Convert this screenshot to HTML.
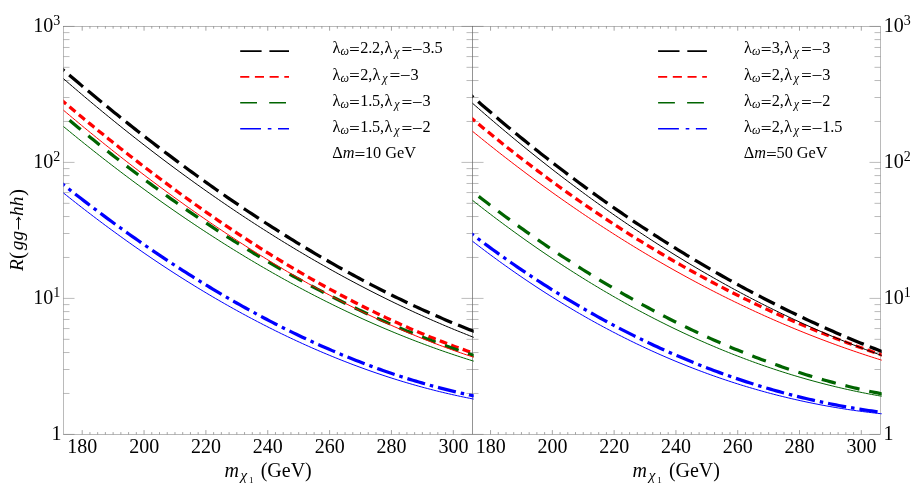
<!DOCTYPE html>
<html><head><meta charset="utf-8"><title>R(gg→hh)</title>
<style>
html,body{margin:0;padding:0;background:#fff;}
svg{display:block;}
text{font-family:"Liberation Serif",serif;fill:#000;}
</style></head>
<body>
<svg width="921" height="491" viewBox="0 0 921 491">
<rect width="921" height="491" fill="#fff"/>
<g>
<rect x="63.5" y="26.4" width="409.0" height="408.0" fill="none" stroke="#666" stroke-width="0.45"/>
<line x1="82.20" y1="434.40" x2="82.20" y2="430.10" stroke="#666" stroke-width="0.6" />
<line x1="82.20" y1="26.40" x2="82.20" y2="30.70" stroke="#666" stroke-width="0.6" />
<line x1="89.93" y1="434.40" x2="89.93" y2="432.10" stroke="#666" stroke-width="0.6" />
<line x1="89.93" y1="26.40" x2="89.93" y2="28.70" stroke="#666" stroke-width="0.6" />
<line x1="97.66" y1="434.40" x2="97.66" y2="432.10" stroke="#666" stroke-width="0.6" />
<line x1="97.66" y1="26.40" x2="97.66" y2="28.70" stroke="#666" stroke-width="0.6" />
<line x1="105.39" y1="434.40" x2="105.39" y2="432.10" stroke="#666" stroke-width="0.6" />
<line x1="105.39" y1="26.40" x2="105.39" y2="28.70" stroke="#666" stroke-width="0.6" />
<line x1="113.12" y1="434.40" x2="113.12" y2="432.10" stroke="#666" stroke-width="0.6" />
<line x1="113.12" y1="26.40" x2="113.12" y2="28.70" stroke="#666" stroke-width="0.6" />
<line x1="120.86" y1="434.40" x2="120.86" y2="432.10" stroke="#666" stroke-width="0.6" />
<line x1="120.86" y1="26.40" x2="120.86" y2="28.70" stroke="#666" stroke-width="0.6" />
<line x1="128.59" y1="434.40" x2="128.59" y2="432.10" stroke="#666" stroke-width="0.6" />
<line x1="128.59" y1="26.40" x2="128.59" y2="28.70" stroke="#666" stroke-width="0.6" />
<line x1="136.32" y1="434.40" x2="136.32" y2="432.10" stroke="#666" stroke-width="0.6" />
<line x1="136.32" y1="26.40" x2="136.32" y2="28.70" stroke="#666" stroke-width="0.6" />
<line x1="144.05" y1="434.40" x2="144.05" y2="430.10" stroke="#666" stroke-width="0.6" />
<line x1="144.05" y1="26.40" x2="144.05" y2="30.70" stroke="#666" stroke-width="0.6" />
<line x1="151.78" y1="434.40" x2="151.78" y2="432.10" stroke="#666" stroke-width="0.6" />
<line x1="151.78" y1="26.40" x2="151.78" y2="28.70" stroke="#666" stroke-width="0.6" />
<line x1="159.51" y1="434.40" x2="159.51" y2="432.10" stroke="#666" stroke-width="0.6" />
<line x1="159.51" y1="26.40" x2="159.51" y2="28.70" stroke="#666" stroke-width="0.6" />
<line x1="167.24" y1="434.40" x2="167.24" y2="432.10" stroke="#666" stroke-width="0.6" />
<line x1="167.24" y1="26.40" x2="167.24" y2="28.70" stroke="#666" stroke-width="0.6" />
<line x1="174.97" y1="434.40" x2="174.97" y2="432.10" stroke="#666" stroke-width="0.6" />
<line x1="174.97" y1="26.40" x2="174.97" y2="28.70" stroke="#666" stroke-width="0.6" />
<line x1="182.71" y1="434.40" x2="182.71" y2="432.10" stroke="#666" stroke-width="0.6" />
<line x1="182.71" y1="26.40" x2="182.71" y2="28.70" stroke="#666" stroke-width="0.6" />
<line x1="190.44" y1="434.40" x2="190.44" y2="432.10" stroke="#666" stroke-width="0.6" />
<line x1="190.44" y1="26.40" x2="190.44" y2="28.70" stroke="#666" stroke-width="0.6" />
<line x1="198.17" y1="434.40" x2="198.17" y2="432.10" stroke="#666" stroke-width="0.6" />
<line x1="198.17" y1="26.40" x2="198.17" y2="28.70" stroke="#666" stroke-width="0.6" />
<line x1="205.90" y1="434.40" x2="205.90" y2="430.10" stroke="#666" stroke-width="0.6" />
<line x1="205.90" y1="26.40" x2="205.90" y2="30.70" stroke="#666" stroke-width="0.6" />
<line x1="213.63" y1="434.40" x2="213.63" y2="432.10" stroke="#666" stroke-width="0.6" />
<line x1="213.63" y1="26.40" x2="213.63" y2="28.70" stroke="#666" stroke-width="0.6" />
<line x1="221.36" y1="434.40" x2="221.36" y2="432.10" stroke="#666" stroke-width="0.6" />
<line x1="221.36" y1="26.40" x2="221.36" y2="28.70" stroke="#666" stroke-width="0.6" />
<line x1="229.09" y1="434.40" x2="229.09" y2="432.10" stroke="#666" stroke-width="0.6" />
<line x1="229.09" y1="26.40" x2="229.09" y2="28.70" stroke="#666" stroke-width="0.6" />
<line x1="236.82" y1="434.40" x2="236.82" y2="432.10" stroke="#666" stroke-width="0.6" />
<line x1="236.82" y1="26.40" x2="236.82" y2="28.70" stroke="#666" stroke-width="0.6" />
<line x1="244.56" y1="434.40" x2="244.56" y2="432.10" stroke="#666" stroke-width="0.6" />
<line x1="244.56" y1="26.40" x2="244.56" y2="28.70" stroke="#666" stroke-width="0.6" />
<line x1="252.29" y1="434.40" x2="252.29" y2="432.10" stroke="#666" stroke-width="0.6" />
<line x1="252.29" y1="26.40" x2="252.29" y2="28.70" stroke="#666" stroke-width="0.6" />
<line x1="260.02" y1="434.40" x2="260.02" y2="432.10" stroke="#666" stroke-width="0.6" />
<line x1="260.02" y1="26.40" x2="260.02" y2="28.70" stroke="#666" stroke-width="0.6" />
<line x1="267.75" y1="434.40" x2="267.75" y2="430.10" stroke="#666" stroke-width="0.6" />
<line x1="267.75" y1="26.40" x2="267.75" y2="30.70" stroke="#666" stroke-width="0.6" />
<line x1="275.48" y1="434.40" x2="275.48" y2="432.10" stroke="#666" stroke-width="0.6" />
<line x1="275.48" y1="26.40" x2="275.48" y2="28.70" stroke="#666" stroke-width="0.6" />
<line x1="283.21" y1="434.40" x2="283.21" y2="432.10" stroke="#666" stroke-width="0.6" />
<line x1="283.21" y1="26.40" x2="283.21" y2="28.70" stroke="#666" stroke-width="0.6" />
<line x1="290.94" y1="434.40" x2="290.94" y2="432.10" stroke="#666" stroke-width="0.6" />
<line x1="290.94" y1="26.40" x2="290.94" y2="28.70" stroke="#666" stroke-width="0.6" />
<line x1="298.68" y1="434.40" x2="298.68" y2="432.10" stroke="#666" stroke-width="0.6" />
<line x1="298.68" y1="26.40" x2="298.68" y2="28.70" stroke="#666" stroke-width="0.6" />
<line x1="306.41" y1="434.40" x2="306.41" y2="432.10" stroke="#666" stroke-width="0.6" />
<line x1="306.41" y1="26.40" x2="306.41" y2="28.70" stroke="#666" stroke-width="0.6" />
<line x1="314.14" y1="434.40" x2="314.14" y2="432.10" stroke="#666" stroke-width="0.6" />
<line x1="314.14" y1="26.40" x2="314.14" y2="28.70" stroke="#666" stroke-width="0.6" />
<line x1="321.87" y1="434.40" x2="321.87" y2="432.10" stroke="#666" stroke-width="0.6" />
<line x1="321.87" y1="26.40" x2="321.87" y2="28.70" stroke="#666" stroke-width="0.6" />
<line x1="329.60" y1="434.40" x2="329.60" y2="430.10" stroke="#666" stroke-width="0.6" />
<line x1="329.60" y1="26.40" x2="329.60" y2="30.70" stroke="#666" stroke-width="0.6" />
<line x1="337.33" y1="434.40" x2="337.33" y2="432.10" stroke="#666" stroke-width="0.6" />
<line x1="337.33" y1="26.40" x2="337.33" y2="28.70" stroke="#666" stroke-width="0.6" />
<line x1="345.06" y1="434.40" x2="345.06" y2="432.10" stroke="#666" stroke-width="0.6" />
<line x1="345.06" y1="26.40" x2="345.06" y2="28.70" stroke="#666" stroke-width="0.6" />
<line x1="352.79" y1="434.40" x2="352.79" y2="432.10" stroke="#666" stroke-width="0.6" />
<line x1="352.79" y1="26.40" x2="352.79" y2="28.70" stroke="#666" stroke-width="0.6" />
<line x1="360.52" y1="434.40" x2="360.52" y2="432.10" stroke="#666" stroke-width="0.6" />
<line x1="360.52" y1="26.40" x2="360.52" y2="28.70" stroke="#666" stroke-width="0.6" />
<line x1="368.26" y1="434.40" x2="368.26" y2="432.10" stroke="#666" stroke-width="0.6" />
<line x1="368.26" y1="26.40" x2="368.26" y2="28.70" stroke="#666" stroke-width="0.6" />
<line x1="375.99" y1="434.40" x2="375.99" y2="432.10" stroke="#666" stroke-width="0.6" />
<line x1="375.99" y1="26.40" x2="375.99" y2="28.70" stroke="#666" stroke-width="0.6" />
<line x1="383.72" y1="434.40" x2="383.72" y2="432.10" stroke="#666" stroke-width="0.6" />
<line x1="383.72" y1="26.40" x2="383.72" y2="28.70" stroke="#666" stroke-width="0.6" />
<line x1="391.45" y1="434.40" x2="391.45" y2="430.10" stroke="#666" stroke-width="0.6" />
<line x1="391.45" y1="26.40" x2="391.45" y2="30.70" stroke="#666" stroke-width="0.6" />
<line x1="399.18" y1="434.40" x2="399.18" y2="432.10" stroke="#666" stroke-width="0.6" />
<line x1="399.18" y1="26.40" x2="399.18" y2="28.70" stroke="#666" stroke-width="0.6" />
<line x1="406.91" y1="434.40" x2="406.91" y2="432.10" stroke="#666" stroke-width="0.6" />
<line x1="406.91" y1="26.40" x2="406.91" y2="28.70" stroke="#666" stroke-width="0.6" />
<line x1="414.64" y1="434.40" x2="414.64" y2="432.10" stroke="#666" stroke-width="0.6" />
<line x1="414.64" y1="26.40" x2="414.64" y2="28.70" stroke="#666" stroke-width="0.6" />
<line x1="422.37" y1="434.40" x2="422.37" y2="432.10" stroke="#666" stroke-width="0.6" />
<line x1="422.37" y1="26.40" x2="422.37" y2="28.70" stroke="#666" stroke-width="0.6" />
<line x1="430.11" y1="434.40" x2="430.11" y2="432.10" stroke="#666" stroke-width="0.6" />
<line x1="430.11" y1="26.40" x2="430.11" y2="28.70" stroke="#666" stroke-width="0.6" />
<line x1="437.84" y1="434.40" x2="437.84" y2="432.10" stroke="#666" stroke-width="0.6" />
<line x1="437.84" y1="26.40" x2="437.84" y2="28.70" stroke="#666" stroke-width="0.6" />
<line x1="445.57" y1="434.40" x2="445.57" y2="432.10" stroke="#666" stroke-width="0.6" />
<line x1="445.57" y1="26.40" x2="445.57" y2="28.70" stroke="#666" stroke-width="0.6" />
<line x1="453.30" y1="434.40" x2="453.30" y2="430.10" stroke="#666" stroke-width="0.6" />
<line x1="453.30" y1="26.40" x2="453.30" y2="30.70" stroke="#666" stroke-width="0.6" />
<line x1="63.50" y1="434.40" x2="74.50" y2="434.40" stroke="#666" stroke-width="0.45" />
<line x1="472.50" y1="434.40" x2="461.50" y2="434.40" stroke="#666" stroke-width="0.45" />
<line x1="63.50" y1="393.46" x2="69.50" y2="393.46" stroke="#666" stroke-width="0.45" />
<line x1="472.50" y1="393.46" x2="466.50" y2="393.46" stroke="#666" stroke-width="0.45" />
<line x1="63.50" y1="369.51" x2="69.50" y2="369.51" stroke="#666" stroke-width="0.45" />
<line x1="472.50" y1="369.51" x2="466.50" y2="369.51" stroke="#666" stroke-width="0.45" />
<line x1="63.50" y1="352.52" x2="69.50" y2="352.52" stroke="#666" stroke-width="0.45" />
<line x1="472.50" y1="352.52" x2="466.50" y2="352.52" stroke="#666" stroke-width="0.45" />
<line x1="63.50" y1="339.34" x2="69.50" y2="339.34" stroke="#666" stroke-width="0.45" />
<line x1="472.50" y1="339.34" x2="466.50" y2="339.34" stroke="#666" stroke-width="0.45" />
<line x1="63.50" y1="328.57" x2="69.50" y2="328.57" stroke="#666" stroke-width="0.45" />
<line x1="472.50" y1="328.57" x2="466.50" y2="328.57" stroke="#666" stroke-width="0.45" />
<line x1="63.50" y1="319.47" x2="69.50" y2="319.47" stroke="#666" stroke-width="0.45" />
<line x1="472.50" y1="319.47" x2="466.50" y2="319.47" stroke="#666" stroke-width="0.45" />
<line x1="63.50" y1="311.58" x2="69.50" y2="311.58" stroke="#666" stroke-width="0.45" />
<line x1="472.50" y1="311.58" x2="466.50" y2="311.58" stroke="#666" stroke-width="0.45" />
<line x1="63.50" y1="304.62" x2="69.50" y2="304.62" stroke="#666" stroke-width="0.45" />
<line x1="472.50" y1="304.62" x2="466.50" y2="304.62" stroke="#666" stroke-width="0.45" />
<line x1="63.50" y1="298.40" x2="74.50" y2="298.40" stroke="#666" stroke-width="0.45" />
<line x1="472.50" y1="298.40" x2="461.50" y2="298.40" stroke="#666" stroke-width="0.45" />
<line x1="63.50" y1="257.46" x2="69.50" y2="257.46" stroke="#666" stroke-width="0.45" />
<line x1="472.50" y1="257.46" x2="466.50" y2="257.46" stroke="#666" stroke-width="0.45" />
<line x1="63.50" y1="233.51" x2="69.50" y2="233.51" stroke="#666" stroke-width="0.45" />
<line x1="472.50" y1="233.51" x2="466.50" y2="233.51" stroke="#666" stroke-width="0.45" />
<line x1="63.50" y1="216.52" x2="69.50" y2="216.52" stroke="#666" stroke-width="0.45" />
<line x1="472.50" y1="216.52" x2="466.50" y2="216.52" stroke="#666" stroke-width="0.45" />
<line x1="63.50" y1="203.34" x2="69.50" y2="203.34" stroke="#666" stroke-width="0.45" />
<line x1="472.50" y1="203.34" x2="466.50" y2="203.34" stroke="#666" stroke-width="0.45" />
<line x1="63.50" y1="192.57" x2="69.50" y2="192.57" stroke="#666" stroke-width="0.45" />
<line x1="472.50" y1="192.57" x2="466.50" y2="192.57" stroke="#666" stroke-width="0.45" />
<line x1="63.50" y1="183.47" x2="69.50" y2="183.47" stroke="#666" stroke-width="0.45" />
<line x1="472.50" y1="183.47" x2="466.50" y2="183.47" stroke="#666" stroke-width="0.45" />
<line x1="63.50" y1="175.58" x2="69.50" y2="175.58" stroke="#666" stroke-width="0.45" />
<line x1="472.50" y1="175.58" x2="466.50" y2="175.58" stroke="#666" stroke-width="0.45" />
<line x1="63.50" y1="168.62" x2="69.50" y2="168.62" stroke="#666" stroke-width="0.45" />
<line x1="472.50" y1="168.62" x2="466.50" y2="168.62" stroke="#666" stroke-width="0.45" />
<line x1="63.50" y1="162.40" x2="74.50" y2="162.40" stroke="#666" stroke-width="0.45" />
<line x1="472.50" y1="162.40" x2="461.50" y2="162.40" stroke="#666" stroke-width="0.45" />
<line x1="63.50" y1="121.46" x2="69.50" y2="121.46" stroke="#666" stroke-width="0.45" />
<line x1="472.50" y1="121.46" x2="466.50" y2="121.46" stroke="#666" stroke-width="0.45" />
<line x1="63.50" y1="97.51" x2="69.50" y2="97.51" stroke="#666" stroke-width="0.45" />
<line x1="472.50" y1="97.51" x2="466.50" y2="97.51" stroke="#666" stroke-width="0.45" />
<line x1="63.50" y1="80.52" x2="69.50" y2="80.52" stroke="#666" stroke-width="0.45" />
<line x1="472.50" y1="80.52" x2="466.50" y2="80.52" stroke="#666" stroke-width="0.45" />
<line x1="63.50" y1="67.34" x2="69.50" y2="67.34" stroke="#666" stroke-width="0.45" />
<line x1="472.50" y1="67.34" x2="466.50" y2="67.34" stroke="#666" stroke-width="0.45" />
<line x1="63.50" y1="56.57" x2="69.50" y2="56.57" stroke="#666" stroke-width="0.45" />
<line x1="472.50" y1="56.57" x2="466.50" y2="56.57" stroke="#666" stroke-width="0.45" />
<line x1="63.50" y1="47.47" x2="69.50" y2="47.47" stroke="#666" stroke-width="0.45" />
<line x1="472.50" y1="47.47" x2="466.50" y2="47.47" stroke="#666" stroke-width="0.45" />
<line x1="63.50" y1="39.58" x2="69.50" y2="39.58" stroke="#666" stroke-width="0.45" />
<line x1="472.50" y1="39.58" x2="466.50" y2="39.58" stroke="#666" stroke-width="0.45" />
<line x1="63.50" y1="32.62" x2="69.50" y2="32.62" stroke="#666" stroke-width="0.45" />
<line x1="472.50" y1="32.62" x2="466.50" y2="32.62" stroke="#666" stroke-width="0.45" />
<line x1="63.50" y1="26.40" x2="74.50" y2="26.40" stroke="#666" stroke-width="0.45" />
<line x1="472.50" y1="26.40" x2="461.50" y2="26.40" stroke="#666" stroke-width="0.45" />
<rect x="472.5" y="26.4" width="408.0" height="408.0" fill="none" stroke="#666" stroke-width="0.45"/>
<line x1="490.55" y1="434.40" x2="490.55" y2="430.10" stroke="#666" stroke-width="0.6" />
<line x1="490.55" y1="26.40" x2="490.55" y2="30.70" stroke="#666" stroke-width="0.6" />
<line x1="498.27" y1="434.40" x2="498.27" y2="432.10" stroke="#666" stroke-width="0.6" />
<line x1="498.27" y1="26.40" x2="498.27" y2="28.70" stroke="#666" stroke-width="0.6" />
<line x1="506.00" y1="434.40" x2="506.00" y2="432.10" stroke="#666" stroke-width="0.6" />
<line x1="506.00" y1="26.40" x2="506.00" y2="28.70" stroke="#666" stroke-width="0.6" />
<line x1="513.72" y1="434.40" x2="513.72" y2="432.10" stroke="#666" stroke-width="0.6" />
<line x1="513.72" y1="26.40" x2="513.72" y2="28.70" stroke="#666" stroke-width="0.6" />
<line x1="521.45" y1="434.40" x2="521.45" y2="432.10" stroke="#666" stroke-width="0.6" />
<line x1="521.45" y1="26.40" x2="521.45" y2="28.70" stroke="#666" stroke-width="0.6" />
<line x1="529.17" y1="434.40" x2="529.17" y2="432.10" stroke="#666" stroke-width="0.6" />
<line x1="529.17" y1="26.40" x2="529.17" y2="28.70" stroke="#666" stroke-width="0.6" />
<line x1="536.89" y1="434.40" x2="536.89" y2="432.10" stroke="#666" stroke-width="0.6" />
<line x1="536.89" y1="26.40" x2="536.89" y2="28.70" stroke="#666" stroke-width="0.6" />
<line x1="544.62" y1="434.40" x2="544.62" y2="432.10" stroke="#666" stroke-width="0.6" />
<line x1="544.62" y1="26.40" x2="544.62" y2="28.70" stroke="#666" stroke-width="0.6" />
<line x1="552.34" y1="434.40" x2="552.34" y2="430.10" stroke="#666" stroke-width="0.6" />
<line x1="552.34" y1="26.40" x2="552.34" y2="30.70" stroke="#666" stroke-width="0.6" />
<line x1="560.07" y1="434.40" x2="560.07" y2="432.10" stroke="#666" stroke-width="0.6" />
<line x1="560.07" y1="26.40" x2="560.07" y2="28.70" stroke="#666" stroke-width="0.6" />
<line x1="567.79" y1="434.40" x2="567.79" y2="432.10" stroke="#666" stroke-width="0.6" />
<line x1="567.79" y1="26.40" x2="567.79" y2="28.70" stroke="#666" stroke-width="0.6" />
<line x1="575.51" y1="434.40" x2="575.51" y2="432.10" stroke="#666" stroke-width="0.6" />
<line x1="575.51" y1="26.40" x2="575.51" y2="28.70" stroke="#666" stroke-width="0.6" />
<line x1="583.24" y1="434.40" x2="583.24" y2="432.10" stroke="#666" stroke-width="0.6" />
<line x1="583.24" y1="26.40" x2="583.24" y2="28.70" stroke="#666" stroke-width="0.6" />
<line x1="590.96" y1="434.40" x2="590.96" y2="432.10" stroke="#666" stroke-width="0.6" />
<line x1="590.96" y1="26.40" x2="590.96" y2="28.70" stroke="#666" stroke-width="0.6" />
<line x1="598.69" y1="434.40" x2="598.69" y2="432.10" stroke="#666" stroke-width="0.6" />
<line x1="598.69" y1="26.40" x2="598.69" y2="28.70" stroke="#666" stroke-width="0.6" />
<line x1="606.41" y1="434.40" x2="606.41" y2="432.10" stroke="#666" stroke-width="0.6" />
<line x1="606.41" y1="26.40" x2="606.41" y2="28.70" stroke="#666" stroke-width="0.6" />
<line x1="614.13" y1="434.40" x2="614.13" y2="430.10" stroke="#666" stroke-width="0.6" />
<line x1="614.13" y1="26.40" x2="614.13" y2="30.70" stroke="#666" stroke-width="0.6" />
<line x1="621.86" y1="434.40" x2="621.86" y2="432.10" stroke="#666" stroke-width="0.6" />
<line x1="621.86" y1="26.40" x2="621.86" y2="28.70" stroke="#666" stroke-width="0.6" />
<line x1="629.58" y1="434.40" x2="629.58" y2="432.10" stroke="#666" stroke-width="0.6" />
<line x1="629.58" y1="26.40" x2="629.58" y2="28.70" stroke="#666" stroke-width="0.6" />
<line x1="637.31" y1="434.40" x2="637.31" y2="432.10" stroke="#666" stroke-width="0.6" />
<line x1="637.31" y1="26.40" x2="637.31" y2="28.70" stroke="#666" stroke-width="0.6" />
<line x1="645.03" y1="434.40" x2="645.03" y2="432.10" stroke="#666" stroke-width="0.6" />
<line x1="645.03" y1="26.40" x2="645.03" y2="28.70" stroke="#666" stroke-width="0.6" />
<line x1="652.75" y1="434.40" x2="652.75" y2="432.10" stroke="#666" stroke-width="0.6" />
<line x1="652.75" y1="26.40" x2="652.75" y2="28.70" stroke="#666" stroke-width="0.6" />
<line x1="660.48" y1="434.40" x2="660.48" y2="432.10" stroke="#666" stroke-width="0.6" />
<line x1="660.48" y1="26.40" x2="660.48" y2="28.70" stroke="#666" stroke-width="0.6" />
<line x1="668.20" y1="434.40" x2="668.20" y2="432.10" stroke="#666" stroke-width="0.6" />
<line x1="668.20" y1="26.40" x2="668.20" y2="28.70" stroke="#666" stroke-width="0.6" />
<line x1="675.93" y1="434.40" x2="675.93" y2="430.10" stroke="#666" stroke-width="0.6" />
<line x1="675.93" y1="26.40" x2="675.93" y2="30.70" stroke="#666" stroke-width="0.6" />
<line x1="683.65" y1="434.40" x2="683.65" y2="432.10" stroke="#666" stroke-width="0.6" />
<line x1="683.65" y1="26.40" x2="683.65" y2="28.70" stroke="#666" stroke-width="0.6" />
<line x1="691.37" y1="434.40" x2="691.37" y2="432.10" stroke="#666" stroke-width="0.6" />
<line x1="691.37" y1="26.40" x2="691.37" y2="28.70" stroke="#666" stroke-width="0.6" />
<line x1="699.10" y1="434.40" x2="699.10" y2="432.10" stroke="#666" stroke-width="0.6" />
<line x1="699.10" y1="26.40" x2="699.10" y2="28.70" stroke="#666" stroke-width="0.6" />
<line x1="706.82" y1="434.40" x2="706.82" y2="432.10" stroke="#666" stroke-width="0.6" />
<line x1="706.82" y1="26.40" x2="706.82" y2="28.70" stroke="#666" stroke-width="0.6" />
<line x1="714.55" y1="434.40" x2="714.55" y2="432.10" stroke="#666" stroke-width="0.6" />
<line x1="714.55" y1="26.40" x2="714.55" y2="28.70" stroke="#666" stroke-width="0.6" />
<line x1="722.27" y1="434.40" x2="722.27" y2="432.10" stroke="#666" stroke-width="0.6" />
<line x1="722.27" y1="26.40" x2="722.27" y2="28.70" stroke="#666" stroke-width="0.6" />
<line x1="729.99" y1="434.40" x2="729.99" y2="432.10" stroke="#666" stroke-width="0.6" />
<line x1="729.99" y1="26.40" x2="729.99" y2="28.70" stroke="#666" stroke-width="0.6" />
<line x1="737.72" y1="434.40" x2="737.72" y2="430.10" stroke="#666" stroke-width="0.6" />
<line x1="737.72" y1="26.40" x2="737.72" y2="30.70" stroke="#666" stroke-width="0.6" />
<line x1="745.44" y1="434.40" x2="745.44" y2="432.10" stroke="#666" stroke-width="0.6" />
<line x1="745.44" y1="26.40" x2="745.44" y2="28.70" stroke="#666" stroke-width="0.6" />
<line x1="753.17" y1="434.40" x2="753.17" y2="432.10" stroke="#666" stroke-width="0.6" />
<line x1="753.17" y1="26.40" x2="753.17" y2="28.70" stroke="#666" stroke-width="0.6" />
<line x1="760.89" y1="434.40" x2="760.89" y2="432.10" stroke="#666" stroke-width="0.6" />
<line x1="760.89" y1="26.40" x2="760.89" y2="28.70" stroke="#666" stroke-width="0.6" />
<line x1="768.61" y1="434.40" x2="768.61" y2="432.10" stroke="#666" stroke-width="0.6" />
<line x1="768.61" y1="26.40" x2="768.61" y2="28.70" stroke="#666" stroke-width="0.6" />
<line x1="776.34" y1="434.40" x2="776.34" y2="432.10" stroke="#666" stroke-width="0.6" />
<line x1="776.34" y1="26.40" x2="776.34" y2="28.70" stroke="#666" stroke-width="0.6" />
<line x1="784.06" y1="434.40" x2="784.06" y2="432.10" stroke="#666" stroke-width="0.6" />
<line x1="784.06" y1="26.40" x2="784.06" y2="28.70" stroke="#666" stroke-width="0.6" />
<line x1="791.79" y1="434.40" x2="791.79" y2="432.10" stroke="#666" stroke-width="0.6" />
<line x1="791.79" y1="26.40" x2="791.79" y2="28.70" stroke="#666" stroke-width="0.6" />
<line x1="799.51" y1="434.40" x2="799.51" y2="430.10" stroke="#666" stroke-width="0.6" />
<line x1="799.51" y1="26.40" x2="799.51" y2="30.70" stroke="#666" stroke-width="0.6" />
<line x1="807.23" y1="434.40" x2="807.23" y2="432.10" stroke="#666" stroke-width="0.6" />
<line x1="807.23" y1="26.40" x2="807.23" y2="28.70" stroke="#666" stroke-width="0.6" />
<line x1="814.96" y1="434.40" x2="814.96" y2="432.10" stroke="#666" stroke-width="0.6" />
<line x1="814.96" y1="26.40" x2="814.96" y2="28.70" stroke="#666" stroke-width="0.6" />
<line x1="822.68" y1="434.40" x2="822.68" y2="432.10" stroke="#666" stroke-width="0.6" />
<line x1="822.68" y1="26.40" x2="822.68" y2="28.70" stroke="#666" stroke-width="0.6" />
<line x1="830.41" y1="434.40" x2="830.41" y2="432.10" stroke="#666" stroke-width="0.6" />
<line x1="830.41" y1="26.40" x2="830.41" y2="28.70" stroke="#666" stroke-width="0.6" />
<line x1="838.13" y1="434.40" x2="838.13" y2="432.10" stroke="#666" stroke-width="0.6" />
<line x1="838.13" y1="26.40" x2="838.13" y2="28.70" stroke="#666" stroke-width="0.6" />
<line x1="845.85" y1="434.40" x2="845.85" y2="432.10" stroke="#666" stroke-width="0.6" />
<line x1="845.85" y1="26.40" x2="845.85" y2="28.70" stroke="#666" stroke-width="0.6" />
<line x1="853.58" y1="434.40" x2="853.58" y2="432.10" stroke="#666" stroke-width="0.6" />
<line x1="853.58" y1="26.40" x2="853.58" y2="28.70" stroke="#666" stroke-width="0.6" />
<line x1="861.30" y1="434.40" x2="861.30" y2="430.10" stroke="#666" stroke-width="0.6" />
<line x1="861.30" y1="26.40" x2="861.30" y2="30.70" stroke="#666" stroke-width="0.6" />
<line x1="472.50" y1="434.40" x2="483.50" y2="434.40" stroke="#666" stroke-width="0.45" />
<line x1="880.50" y1="434.40" x2="869.50" y2="434.40" stroke="#666" stroke-width="0.45" />
<line x1="472.50" y1="393.46" x2="478.50" y2="393.46" stroke="#666" stroke-width="0.45" />
<line x1="880.50" y1="393.46" x2="874.50" y2="393.46" stroke="#666" stroke-width="0.45" />
<line x1="472.50" y1="369.51" x2="478.50" y2="369.51" stroke="#666" stroke-width="0.45" />
<line x1="880.50" y1="369.51" x2="874.50" y2="369.51" stroke="#666" stroke-width="0.45" />
<line x1="472.50" y1="352.52" x2="478.50" y2="352.52" stroke="#666" stroke-width="0.45" />
<line x1="880.50" y1="352.52" x2="874.50" y2="352.52" stroke="#666" stroke-width="0.45" />
<line x1="472.50" y1="339.34" x2="478.50" y2="339.34" stroke="#666" stroke-width="0.45" />
<line x1="880.50" y1="339.34" x2="874.50" y2="339.34" stroke="#666" stroke-width="0.45" />
<line x1="472.50" y1="328.57" x2="478.50" y2="328.57" stroke="#666" stroke-width="0.45" />
<line x1="880.50" y1="328.57" x2="874.50" y2="328.57" stroke="#666" stroke-width="0.45" />
<line x1="472.50" y1="319.47" x2="478.50" y2="319.47" stroke="#666" stroke-width="0.45" />
<line x1="880.50" y1="319.47" x2="874.50" y2="319.47" stroke="#666" stroke-width="0.45" />
<line x1="472.50" y1="311.58" x2="478.50" y2="311.58" stroke="#666" stroke-width="0.45" />
<line x1="880.50" y1="311.58" x2="874.50" y2="311.58" stroke="#666" stroke-width="0.45" />
<line x1="472.50" y1="304.62" x2="478.50" y2="304.62" stroke="#666" stroke-width="0.45" />
<line x1="880.50" y1="304.62" x2="874.50" y2="304.62" stroke="#666" stroke-width="0.45" />
<line x1="472.50" y1="298.40" x2="483.50" y2="298.40" stroke="#666" stroke-width="0.45" />
<line x1="880.50" y1="298.40" x2="869.50" y2="298.40" stroke="#666" stroke-width="0.45" />
<line x1="472.50" y1="257.46" x2="478.50" y2="257.46" stroke="#666" stroke-width="0.45" />
<line x1="880.50" y1="257.46" x2="874.50" y2="257.46" stroke="#666" stroke-width="0.45" />
<line x1="472.50" y1="233.51" x2="478.50" y2="233.51" stroke="#666" stroke-width="0.45" />
<line x1="880.50" y1="233.51" x2="874.50" y2="233.51" stroke="#666" stroke-width="0.45" />
<line x1="472.50" y1="216.52" x2="478.50" y2="216.52" stroke="#666" stroke-width="0.45" />
<line x1="880.50" y1="216.52" x2="874.50" y2="216.52" stroke="#666" stroke-width="0.45" />
<line x1="472.50" y1="203.34" x2="478.50" y2="203.34" stroke="#666" stroke-width="0.45" />
<line x1="880.50" y1="203.34" x2="874.50" y2="203.34" stroke="#666" stroke-width="0.45" />
<line x1="472.50" y1="192.57" x2="478.50" y2="192.57" stroke="#666" stroke-width="0.45" />
<line x1="880.50" y1="192.57" x2="874.50" y2="192.57" stroke="#666" stroke-width="0.45" />
<line x1="472.50" y1="183.47" x2="478.50" y2="183.47" stroke="#666" stroke-width="0.45" />
<line x1="880.50" y1="183.47" x2="874.50" y2="183.47" stroke="#666" stroke-width="0.45" />
<line x1="472.50" y1="175.58" x2="478.50" y2="175.58" stroke="#666" stroke-width="0.45" />
<line x1="880.50" y1="175.58" x2="874.50" y2="175.58" stroke="#666" stroke-width="0.45" />
<line x1="472.50" y1="168.62" x2="478.50" y2="168.62" stroke="#666" stroke-width="0.45" />
<line x1="880.50" y1="168.62" x2="874.50" y2="168.62" stroke="#666" stroke-width="0.45" />
<line x1="472.50" y1="162.40" x2="483.50" y2="162.40" stroke="#666" stroke-width="0.45" />
<line x1="880.50" y1="162.40" x2="869.50" y2="162.40" stroke="#666" stroke-width="0.45" />
<line x1="472.50" y1="121.46" x2="478.50" y2="121.46" stroke="#666" stroke-width="0.45" />
<line x1="880.50" y1="121.46" x2="874.50" y2="121.46" stroke="#666" stroke-width="0.45" />
<line x1="472.50" y1="97.51" x2="478.50" y2="97.51" stroke="#666" stroke-width="0.45" />
<line x1="880.50" y1="97.51" x2="874.50" y2="97.51" stroke="#666" stroke-width="0.45" />
<line x1="472.50" y1="80.52" x2="478.50" y2="80.52" stroke="#666" stroke-width="0.45" />
<line x1="880.50" y1="80.52" x2="874.50" y2="80.52" stroke="#666" stroke-width="0.45" />
<line x1="472.50" y1="67.34" x2="478.50" y2="67.34" stroke="#666" stroke-width="0.45" />
<line x1="880.50" y1="67.34" x2="874.50" y2="67.34" stroke="#666" stroke-width="0.45" />
<line x1="472.50" y1="56.57" x2="478.50" y2="56.57" stroke="#666" stroke-width="0.45" />
<line x1="880.50" y1="56.57" x2="874.50" y2="56.57" stroke="#666" stroke-width="0.45" />
<line x1="472.50" y1="47.47" x2="478.50" y2="47.47" stroke="#666" stroke-width="0.45" />
<line x1="880.50" y1="47.47" x2="874.50" y2="47.47" stroke="#666" stroke-width="0.45" />
<line x1="472.50" y1="39.58" x2="478.50" y2="39.58" stroke="#666" stroke-width="0.45" />
<line x1="880.50" y1="39.58" x2="874.50" y2="39.58" stroke="#666" stroke-width="0.45" />
<line x1="472.50" y1="32.62" x2="478.50" y2="32.62" stroke="#666" stroke-width="0.45" />
<line x1="880.50" y1="32.62" x2="874.50" y2="32.62" stroke="#666" stroke-width="0.45" />
<line x1="472.50" y1="26.40" x2="483.50" y2="26.40" stroke="#666" stroke-width="0.45" />
<line x1="880.50" y1="26.40" x2="869.50" y2="26.40" stroke="#666" stroke-width="0.45" />
<clipPath id="cl"><rect x="63.5" y="26.4" width="410.2" height="408.0"/></clipPath>
<clipPath id="cr"><rect x="472.5" y="26.4" width="409.2" height="408.0"/></clipPath>
<g clip-path="url(#cl)">
<path d="M60.50 67.62 L63.49 70.18 L66.47 72.74 L69.46 75.28 L72.44 77.82 L75.43 80.34 L78.41 82.86 L81.40 85.38 L84.38 87.88 L87.37 90.37 L90.36 92.86 L93.34 95.34 L96.33 97.81 L99.31 100.27 L102.30 102.72 L105.28 105.16 L108.27 107.59 L111.26 110.02 L114.24 112.44 L117.23 114.85 L120.21 117.25 L123.20 119.64 L126.18 122.02 L129.17 124.39 L132.15 126.76 L135.14 129.11 L138.13 131.46 L141.11 133.79 L144.10 136.12 L147.08 138.44 L150.07 140.75 L153.05 143.05 L156.04 145.35 L159.03 147.63 L162.01 149.90 L165.00 152.17 L167.98 154.42 L170.97 156.67 L173.95 158.91 L176.94 161.13 L179.92 163.35 L182.91 165.56 L185.90 167.76 L188.88 169.95 L191.87 172.13 L194.85 174.30 L197.84 176.46 L200.82 178.62 L203.81 180.76 L206.79 182.89 L209.78 185.01 L212.77 187.13 L215.75 189.23 L218.74 191.33 L221.72 193.41 L224.71 195.48 L227.69 197.55 L230.68 199.60 L233.67 201.65 L236.65 203.69 L239.64 205.71 L242.62 207.73 L245.61 209.73 L248.59 211.73 L251.58 213.71 L254.56 215.69 L257.55 217.65 L260.54 219.61 L263.52 221.55 L266.51 223.49 L269.49 225.41 L272.48 227.33 L275.46 229.23 L278.45 231.13 L281.44 233.01 L284.42 234.88 L287.41 236.75 L290.39 238.60 L293.38 240.44 L296.36 242.27 L299.35 244.09 L302.33 245.90 L305.32 247.70 L308.31 249.49 L311.29 251.27 L314.28 253.04 L317.26 254.80 L320.25 256.55 L323.23 258.28 L326.22 260.01 L329.21 261.72 L332.19 263.43 L335.18 265.12 L338.16 266.80 L341.15 268.47 L344.13 270.13 L347.12 271.78 L350.10 273.42 L353.09 275.05 L356.08 276.67 L359.06 278.27 L362.05 279.87 L365.03 281.45 L368.02 283.02 L371.00 284.58 L373.99 286.13 L376.97 287.67 L379.96 289.20 L382.95 290.72 L385.93 292.22 L388.92 293.71 L391.90 295.20 L394.89 296.67 L397.87 298.13 L400.86 299.57 L403.85 301.01 L406.83 302.44 L409.82 303.85 L412.80 305.25 L415.79 306.64 L418.77 308.02 L421.76 309.39 L424.74 310.74 L427.73 312.08 L430.72 313.42 L433.70 314.74 L436.69 316.04 L439.67 317.34 L442.66 318.63 L445.64 319.90 L448.63 321.16 L451.62 322.41 L454.60 323.64 L457.59 324.87 L460.57 326.08 L463.56 327.28 L466.54 328.47 L469.53 329.65 L472.51 330.81 L475.50 331.96" fill="none" stroke="#000" stroke-width="3.25" stroke-dasharray="18 6.43" stroke-dashoffset="12.95"/>
<path d="M60.50 99.25 L63.49 101.78 L66.47 104.29 L69.46 106.80 L72.44 109.30 L75.43 111.80 L78.41 114.28 L81.40 116.76 L84.38 119.22 L87.37 121.68 L90.36 124.13 L93.34 126.57 L96.33 129.01 L99.31 131.43 L102.30 133.84 L105.28 136.25 L108.27 138.65 L111.26 141.04 L114.24 143.42 L117.23 145.79 L120.21 148.15 L123.20 150.50 L126.18 152.85 L129.17 155.18 L132.15 157.51 L135.14 159.82 L138.13 162.13 L141.11 164.43 L144.10 166.72 L147.08 168.99 L150.07 171.26 L153.05 173.52 L156.04 175.78 L159.03 178.02 L162.01 180.25 L165.00 182.47 L167.98 184.68 L170.97 186.89 L173.95 189.08 L176.94 191.26 L179.92 193.44 L182.91 195.60 L185.90 197.76 L188.88 199.90 L191.87 202.03 L194.85 204.16 L197.84 206.27 L200.82 208.38 L203.81 210.47 L206.79 212.55 L209.78 214.63 L212.77 216.69 L215.75 218.75 L218.74 220.79 L221.72 222.82 L224.71 224.84 L227.69 226.86 L230.68 228.86 L233.67 230.85 L236.65 232.83 L239.64 234.80 L242.62 236.76 L245.61 238.71 L248.59 240.65 L251.58 242.57 L254.56 244.49 L257.55 246.40 L260.54 248.29 L263.52 250.18 L266.51 252.05 L269.49 253.91 L272.48 255.76 L275.46 257.60 L278.45 259.43 L281.44 261.25 L284.42 263.06 L287.41 264.86 L290.39 266.64 L293.38 268.41 L296.36 270.18 L299.35 271.93 L302.33 273.67 L305.32 275.39 L308.31 277.11 L311.29 278.82 L314.28 280.51 L317.26 282.19 L320.25 283.86 L323.23 285.52 L326.22 287.17 L329.21 288.80 L332.19 290.43 L335.18 292.04 L338.16 293.64 L341.15 295.23 L344.13 296.80 L347.12 298.37 L350.10 299.92 L353.09 301.46 L356.08 302.99 L359.06 304.51 L362.05 306.01 L365.03 307.50 L368.02 308.98 L371.00 310.45 L373.99 311.90 L376.97 313.35 L379.96 314.78 L382.95 316.19 L385.93 317.60 L388.92 318.99 L391.90 320.37 L394.89 321.74 L397.87 323.10 L400.86 324.44 L403.85 325.77 L406.83 327.09 L409.82 328.39 L412.80 329.68 L415.79 330.96 L418.77 332.23 L421.76 333.48 L424.74 334.72 L427.73 335.95 L430.72 337.16 L433.70 338.36 L436.69 339.55 L439.67 340.72 L442.66 341.88 L445.64 343.03 L448.63 344.17 L451.62 345.29 L454.60 346.40 L457.59 347.49 L460.57 348.57 L463.56 349.64 L466.54 350.69 L469.53 351.74 L472.51 352.76 L475.50 353.78" fill="none" stroke="#ff0000" stroke-width="3.25" stroke-dasharray="7.8 4.42" stroke-dashoffset="0.47"/>
<path d="M60.50 112.62 L63.49 115.15 L66.47 117.67 L69.46 120.18 L72.44 122.68 L75.43 125.17 L78.41 127.64 L81.40 130.11 L84.38 132.56 L87.37 135.00 L90.36 137.43 L93.34 139.85 L96.33 142.26 L99.31 144.66 L102.30 147.04 L105.28 149.42 L108.27 151.78 L111.26 154.13 L114.24 156.48 L117.23 158.80 L120.21 161.12 L123.20 163.43 L126.18 165.73 L129.17 168.01 L132.15 170.28 L135.14 172.54 L138.13 174.80 L141.11 177.03 L144.10 179.26 L147.08 181.48 L150.07 183.68 L153.05 185.88 L156.04 188.06 L159.03 190.23 L162.01 192.39 L165.00 194.54 L167.98 196.68 L170.97 198.81 L173.95 200.92 L176.94 203.02 L179.92 205.12 L182.91 207.20 L185.90 209.27 L188.88 211.33 L191.87 213.37 L194.85 215.41 L197.84 217.43 L200.82 219.45 L203.81 221.45 L206.79 223.44 L209.78 225.42 L212.77 227.39 L215.75 229.34 L218.74 231.29 L221.72 233.22 L224.71 235.14 L227.69 237.06 L230.68 238.96 L233.67 240.84 L236.65 242.72 L239.64 244.59 L242.62 246.44 L245.61 248.28 L248.59 250.12 L251.58 251.94 L254.56 253.75 L257.55 255.54 L260.54 257.33 L263.52 259.10 L266.51 260.87 L269.49 262.62 L272.48 264.36 L275.46 266.09 L278.45 267.81 L281.44 269.52 L284.42 271.21 L287.41 272.89 L290.39 274.57 L293.38 276.23 L296.36 277.88 L299.35 279.52 L302.33 281.14 L305.32 282.76 L308.31 284.36 L311.29 285.96 L314.28 287.54 L317.26 289.11 L320.25 290.67 L323.23 292.21 L326.22 293.75 L329.21 295.28 L332.19 296.79 L335.18 298.29 L338.16 299.78 L341.15 301.26 L344.13 302.73 L347.12 304.18 L350.10 305.63 L353.09 307.06 L356.08 308.48 L359.06 309.89 L362.05 311.29 L365.03 312.68 L368.02 314.06 L371.00 315.42 L373.99 316.78 L376.97 318.12 L379.96 319.45 L382.95 320.77 L385.93 322.07 L388.92 323.37 L391.90 324.66 L394.89 325.93 L397.87 327.19 L400.86 328.44 L403.85 329.68 L406.83 330.91 L409.82 332.12 L412.80 333.33 L415.79 334.52 L418.77 335.70 L421.76 336.87 L424.74 338.03 L427.73 339.18 L430.72 340.32 L433.70 341.44 L436.69 342.55 L439.67 343.66 L442.66 344.75 L445.64 345.82 L448.63 346.89 L451.62 347.95 L454.60 348.99 L457.59 350.02 L460.57 351.04 L463.56 352.05 L466.54 353.05 L469.53 354.04 L472.51 355.01 L475.50 355.98" fill="none" stroke="#006400" stroke-width="3.25" stroke-dasharray="14.5 9.95" stroke-dashoffset="12.67"/>
<path d="M60.50 182.40 L63.49 184.78 L66.47 187.14 L69.46 189.49 L72.44 191.83 L75.43 194.17 L78.41 196.48 L81.40 198.79 L84.38 201.09 L87.37 203.38 L90.36 205.65 L93.34 207.92 L96.33 210.17 L99.31 212.41 L102.30 214.64 L105.28 216.86 L108.27 219.07 L111.26 221.26 L114.24 223.45 L117.23 225.62 L120.21 227.79 L123.20 229.94 L126.18 232.08 L129.17 234.21 L132.15 236.32 L135.14 238.43 L138.13 240.52 L141.11 242.61 L144.10 244.68 L147.08 246.74 L150.07 248.78 L153.05 250.82 L156.04 252.85 L159.03 254.86 L162.01 256.86 L165.00 258.85 L167.98 260.83 L170.97 262.79 L173.95 264.74 L176.94 266.69 L179.92 268.62 L182.91 270.53 L185.90 272.44 L188.88 274.33 L191.87 276.22 L194.85 278.09 L197.84 279.95 L200.82 281.79 L203.81 283.62 L206.79 285.45 L209.78 287.26 L212.77 289.05 L215.75 290.84 L218.74 292.61 L221.72 294.37 L224.71 296.12 L227.69 297.86 L230.68 299.58 L233.67 301.29 L236.65 302.99 L239.64 304.68 L242.62 306.35 L245.61 308.01 L248.59 309.66 L251.58 311.30 L254.56 312.92 L257.55 314.53 L260.54 316.13 L263.52 317.71 L266.51 319.29 L269.49 320.85 L272.48 322.40 L275.46 323.93 L278.45 325.45 L281.44 326.96 L284.42 328.46 L287.41 329.94 L290.39 331.41 L293.38 332.87 L296.36 334.31 L299.35 335.75 L302.33 337.16 L305.32 338.57 L308.31 339.96 L311.29 341.34 L314.28 342.71 L317.26 344.06 L320.25 345.40 L323.23 346.73 L326.22 348.04 L329.21 349.34 L332.19 350.63 L335.18 351.90 L338.16 353.16 L341.15 354.41 L344.13 355.64 L347.12 356.86 L350.10 358.07 L353.09 359.26 L356.08 360.44 L359.06 361.61 L362.05 362.76 L365.03 363.90 L368.02 365.03 L371.00 366.14 L373.99 367.24 L376.97 368.32 L379.96 369.39 L382.95 370.45 L385.93 371.49 L388.92 372.52 L391.90 373.54 L394.89 374.54 L397.87 375.53 L400.86 376.50 L403.85 377.46 L406.83 378.41 L409.82 379.34 L412.80 380.26 L415.79 381.16 L418.77 382.05 L421.76 382.93 L424.74 383.79 L427.73 384.64 L430.72 385.47 L433.70 386.29 L436.69 387.09 L439.67 387.88 L442.66 388.66 L445.64 389.42 L448.63 390.17 L451.62 390.90 L454.60 391.62 L457.59 392.33 L460.57 393.02 L463.56 393.69 L466.54 394.35 L469.53 395.00 L472.51 395.63 L475.50 396.25" fill="none" stroke="#0000ff" stroke-width="3.25" stroke-dasharray="18.4 4.97 3.5 4.97" stroke-dashoffset="13.14"/>
<path d="M60.50 76.11 L63.49 78.70 L66.47 81.29 L69.46 83.87 L72.44 86.43 L75.43 88.99 L78.41 91.53 L81.40 94.07 L84.38 96.60 L87.37 99.11 L90.36 101.62 L93.34 104.11 L96.33 106.60 L99.31 109.07 L102.30 111.54 L105.28 113.99 L108.27 116.43 L111.26 118.87 L114.24 121.29 L117.23 123.71 L120.21 126.11 L123.20 128.50 L126.18 130.89 L129.17 133.26 L132.15 135.62 L135.14 137.98 L138.13 140.32 L141.11 142.65 L144.10 144.97 L147.08 147.28 L150.07 149.59 L153.05 151.88 L156.04 154.16 L159.03 156.43 L162.01 158.69 L165.00 160.94 L167.98 163.18 L170.97 165.41 L173.95 167.63 L176.94 169.84 L179.92 172.04 L182.91 174.23 L185.90 176.40 L188.88 178.57 L191.87 180.73 L194.85 182.88 L197.84 185.01 L200.82 187.14 L203.81 189.26 L206.79 191.36 L209.78 193.46 L212.77 195.55 L215.75 197.62 L218.74 199.69 L221.72 201.74 L224.71 203.78 L227.69 205.82 L230.68 207.84 L233.67 209.85 L236.65 211.86 L239.64 213.85 L242.62 215.83 L245.61 217.80 L248.59 219.76 L251.58 221.71 L254.56 223.65 L257.55 225.58 L260.54 227.50 L263.52 229.41 L266.51 231.31 L269.49 233.20 L272.48 235.08 L275.46 236.94 L278.45 238.80 L281.44 240.65 L284.42 242.48 L287.41 244.31 L290.39 246.12 L293.38 247.93 L296.36 249.72 L299.35 251.51 L302.33 253.28 L305.32 255.04 L308.31 256.79 L311.29 258.54 L314.28 260.27 L317.26 261.99 L320.25 263.70 L323.23 265.40 L326.22 267.09 L329.21 268.77 L332.19 270.43 L335.18 272.09 L338.16 273.74 L341.15 275.37 L344.13 277.00 L347.12 278.62 L350.10 280.22 L353.09 281.81 L356.08 283.40 L359.06 284.97 L362.05 286.53 L365.03 288.09 L368.02 289.63 L371.00 291.16 L373.99 292.68 L376.97 294.19 L379.96 295.69 L382.95 297.17 L385.93 298.65 L388.92 300.12 L391.90 301.57 L394.89 303.02 L397.87 304.46 L400.86 305.88 L403.85 307.29 L406.83 308.70 L409.82 310.09 L412.80 311.47 L415.79 312.84 L418.77 314.20 L421.76 315.55 L424.74 316.89 L427.73 318.22 L430.72 319.54 L433.70 320.84 L436.69 322.14 L439.67 323.43 L442.66 324.70 L445.64 325.96 L448.63 327.22 L451.62 328.46 L454.60 329.69 L457.59 330.91 L460.57 332.12 L463.56 333.32 L466.54 334.51 L469.53 335.69 L472.51 336.86 L475.50 338.01" fill="none" stroke="#000" stroke-width="1.0"/>
<path d="M60.50 107.71 L63.49 110.24 L66.47 112.76 L69.46 115.27 L72.44 117.77 L75.43 120.27 L78.41 122.75 L81.40 125.23 L84.38 127.69 L87.37 130.15 L90.36 132.59 L93.34 135.03 L96.33 137.46 L99.31 139.88 L102.30 142.28 L105.28 144.68 L108.27 147.07 L111.26 149.45 L114.24 151.82 L117.23 154.18 L120.21 156.53 L123.20 158.87 L126.18 161.20 L129.17 163.52 L132.15 165.83 L135.14 168.13 L138.13 170.42 L141.11 172.70 L144.10 174.97 L147.08 177.23 L150.07 179.48 L153.05 181.72 L156.04 183.95 L159.03 186.17 L162.01 188.38 L165.00 190.58 L167.98 192.77 L170.97 194.95 L173.95 197.12 L176.94 199.28 L179.92 201.42 L182.91 203.56 L185.90 205.69 L188.88 207.81 L191.87 209.91 L194.85 212.01 L197.84 214.09 L200.82 216.17 L203.81 218.23 L206.79 220.29 L209.78 222.33 L212.77 224.36 L215.75 226.38 L218.74 228.39 L221.72 230.39 L224.71 232.38 L227.69 234.36 L230.68 236.33 L233.67 238.28 L236.65 240.23 L239.64 242.16 L242.62 244.09 L245.61 246.00 L248.59 247.90 L251.58 249.79 L254.56 251.67 L257.55 253.54 L260.54 255.39 L263.52 257.24 L266.51 259.07 L269.49 260.90 L272.48 262.71 L275.46 264.51 L278.45 266.30 L281.44 268.08 L284.42 269.84 L287.41 271.60 L290.39 273.34 L293.38 275.07 L296.36 276.80 L299.35 278.50 L302.33 280.20 L305.32 281.89 L308.31 283.56 L311.29 285.22 L314.28 286.87 L317.26 288.51 L320.25 290.14 L323.23 291.76 L326.22 293.36 L329.21 294.95 L332.19 296.53 L335.18 298.10 L338.16 299.66 L341.15 301.20 L344.13 302.73 L347.12 304.25 L350.10 305.76 L353.09 307.26 L356.08 308.74 L359.06 310.21 L362.05 311.67 L365.03 313.12 L368.02 314.55 L371.00 315.98 L373.99 317.39 L376.97 318.79 L379.96 320.17 L382.95 321.55 L385.93 322.91 L388.92 324.26 L391.90 325.59 L394.89 326.91 L397.87 328.23 L400.86 329.52 L403.85 330.81 L406.83 332.08 L409.82 333.34 L412.80 334.59 L415.79 335.83 L418.77 337.05 L421.76 338.26 L424.74 339.46 L427.73 340.64 L430.72 341.81 L433.70 342.97 L436.69 344.12 L439.67 345.25 L442.66 346.37 L445.64 347.48 L448.63 348.57 L451.62 349.65 L454.60 350.72 L457.59 351.77 L460.57 352.81 L463.56 353.84 L466.54 354.85 L469.53 355.86 L472.51 356.84 L475.50 357.82" fill="none" stroke="#ff0000" stroke-width="1.0"/>
<path d="M60.50 124.05 L63.49 126.53 L66.47 128.99 L69.46 131.45 L72.44 133.90 L75.43 136.33 L78.41 138.75 L81.40 141.17 L84.38 143.57 L87.37 145.96 L90.36 148.34 L93.34 150.71 L96.33 153.07 L99.31 155.41 L102.30 157.75 L105.28 160.08 L108.27 162.39 L111.26 164.70 L114.24 166.99 L117.23 169.27 L120.21 171.54 L123.20 173.80 L126.18 176.05 L129.17 178.29 L132.15 180.52 L135.14 182.74 L138.13 184.94 L141.11 187.14 L144.10 189.32 L147.08 191.49 L150.07 193.65 L153.05 195.81 L156.04 197.95 L159.03 200.07 L162.01 202.19 L165.00 204.30 L167.98 206.39 L170.97 208.48 L173.95 210.55 L176.94 212.62 L179.92 214.67 L182.91 216.71 L185.90 218.74 L188.88 220.76 L191.87 222.76 L194.85 224.76 L197.84 226.74 L200.82 228.72 L203.81 230.68 L206.79 232.63 L209.78 234.57 L212.77 236.50 L215.75 238.42 L218.74 240.33 L221.72 242.22 L224.71 244.11 L227.69 245.98 L230.68 247.84 L233.67 249.69 L236.65 251.53 L239.64 253.36 L242.62 255.18 L245.61 256.99 L248.59 258.78 L251.58 260.56 L254.56 262.34 L257.55 264.10 L260.54 265.85 L263.52 267.59 L266.51 269.31 L269.49 271.03 L272.48 272.73 L275.46 274.43 L278.45 276.11 L281.44 277.78 L284.42 279.44 L287.41 281.09 L290.39 282.72 L293.38 284.35 L296.36 285.96 L299.35 287.57 L302.33 289.16 L305.32 290.74 L308.31 292.31 L311.29 293.86 L314.28 295.41 L317.26 296.94 L320.25 298.46 L323.23 299.98 L326.22 301.48 L329.21 302.96 L332.19 304.44 L335.18 305.91 L338.16 307.36 L341.15 308.80 L344.13 310.23 L347.12 311.65 L350.10 313.06 L353.09 314.46 L356.08 315.84 L359.06 317.22 L362.05 318.58 L365.03 319.93 L368.02 321.27 L371.00 322.59 L373.99 323.91 L376.97 325.21 L379.96 326.51 L382.95 327.79 L385.93 329.06 L388.92 330.31 L391.90 331.56 L394.89 332.79 L397.87 334.02 L400.86 335.23 L403.85 336.43 L406.83 337.61 L409.82 338.79 L412.80 339.95 L415.79 341.11 L418.77 342.25 L421.76 343.38 L424.74 344.50 L427.73 345.60 L430.72 346.70 L433.70 347.78 L436.69 348.85 L439.67 349.91 L442.66 350.96 L445.64 351.99 L448.63 353.01 L451.62 354.03 L454.60 355.03 L457.59 356.01 L460.57 356.99 L463.56 357.96 L466.54 358.91 L469.53 359.85 L472.51 360.78 L475.50 361.70" fill="none" stroke="#006400" stroke-width="1.0"/>
<path d="M60.50 190.60 L63.49 193.01 L66.47 195.39 L69.46 197.77 L72.44 200.13 L75.43 202.48 L78.41 204.82 L81.40 207.15 L84.38 209.46 L87.37 211.76 L90.36 214.05 L93.34 216.32 L96.33 218.58 L99.31 220.83 L102.30 223.07 L105.28 225.30 L108.27 227.51 L111.26 229.71 L114.24 231.89 L117.23 234.07 L120.21 236.23 L123.20 238.37 L126.18 240.51 L129.17 242.63 L132.15 244.74 L135.14 246.84 L138.13 248.92 L141.11 250.99 L144.10 253.05 L147.08 255.10 L150.07 257.13 L153.05 259.15 L156.04 261.16 L159.03 263.15 L162.01 265.13 L165.00 267.10 L167.98 269.06 L170.97 271.00 L173.95 272.93 L176.94 274.84 L179.92 276.75 L182.91 278.64 L185.90 280.52 L188.88 282.38 L191.87 284.23 L194.85 286.07 L197.84 287.90 L200.82 289.71 L203.81 291.51 L206.79 293.30 L209.78 295.07 L212.77 296.83 L215.75 298.58 L218.74 300.31 L221.72 302.03 L224.71 303.74 L227.69 305.44 L230.68 307.12 L233.67 308.79 L236.65 310.44 L239.64 312.09 L242.62 313.72 L245.61 315.33 L248.59 316.93 L251.58 318.52 L254.56 320.10 L257.55 321.66 L260.54 323.21 L263.52 324.75 L266.51 326.28 L269.49 327.79 L272.48 329.28 L275.46 330.77 L278.45 332.24 L281.44 333.70 L284.42 335.14 L287.41 336.57 L290.39 337.99 L293.38 339.39 L296.36 340.78 L299.35 342.16 L302.33 343.52 L305.32 344.87 L308.31 346.21 L311.29 347.54 L314.28 348.85 L317.26 350.14 L320.25 351.43 L323.23 352.70 L326.22 353.95 L329.21 355.20 L332.19 356.43 L335.18 357.64 L338.16 358.85 L341.15 360.04 L344.13 361.21 L347.12 362.37 L350.10 363.52 L353.09 364.66 L356.08 365.78 L359.06 366.89 L362.05 367.98 L365.03 369.06 L368.02 370.13 L371.00 371.19 L373.99 372.23 L376.97 373.25 L379.96 374.26 L382.95 375.26 L385.93 376.25 L388.92 377.22 L391.90 378.18 L394.89 379.12 L397.87 380.06 L400.86 380.97 L403.85 381.88 L406.83 382.77 L409.82 383.64 L412.80 384.50 L415.79 385.35 L418.77 386.19 L421.76 387.01 L424.74 387.82 L427.73 388.61 L430.72 389.39 L433.70 390.16 L436.69 390.91 L439.67 391.65 L442.66 392.37 L445.64 393.08 L448.63 393.78 L451.62 394.46 L454.60 395.13 L457.59 395.78 L460.57 396.43 L463.56 397.05 L466.54 397.67 L469.53 398.26 L472.51 398.85 L475.50 399.42" fill="none" stroke="#0000ff" stroke-width="1.0"/>
</g><g clip-path="url(#cr)">
<path d="M469.50 94.01 L472.48 96.63 L475.46 99.24 L478.44 101.83 L481.41 104.42 L484.39 106.99 L487.37 109.55 L490.35 112.10 L493.33 114.64 L496.31 117.17 L499.28 119.68 L502.26 122.18 L505.24 124.67 L508.22 127.15 L511.20 129.62 L514.18 132.08 L517.15 134.52 L520.13 136.96 L523.11 139.38 L526.09 141.79 L529.07 144.19 L532.05 146.58 L535.03 148.95 L538.00 151.32 L540.98 153.67 L543.96 156.01 L546.94 158.34 L549.92 160.66 L552.90 162.97 L555.87 165.26 L558.85 167.55 L561.83 169.82 L564.81 172.08 L567.79 174.34 L570.77 176.58 L573.74 178.80 L576.72 181.02 L579.70 183.23 L582.68 185.42 L585.66 187.60 L588.64 189.78 L591.62 191.94 L594.59 194.09 L597.57 196.23 L600.55 198.36 L603.53 200.47 L606.51 202.58 L609.49 204.67 L612.46 206.76 L615.44 208.83 L618.42 210.89 L621.40 212.94 L624.38 214.98 L627.36 217.01 L630.33 219.03 L633.31 221.03 L636.29 223.03 L639.27 225.01 L642.25 226.99 L645.23 228.95 L648.21 230.90 L651.18 232.84 L654.16 234.77 L657.14 236.69 L660.12 238.60 L663.10 240.50 L666.08 242.39 L669.05 244.26 L672.03 246.13 L675.01 247.98 L677.99 249.83 L680.97 251.66 L683.95 253.48 L686.92 255.30 L689.90 257.10 L692.88 258.89 L695.86 260.67 L698.84 262.44 L701.82 264.20 L704.79 265.95 L707.77 267.68 L710.75 269.41 L713.73 271.13 L716.71 272.83 L719.69 274.53 L722.67 276.22 L725.64 277.89 L728.62 279.55 L731.60 281.21 L734.58 282.85 L737.56 284.49 L740.54 286.11 L743.51 287.72 L746.49 289.32 L749.47 290.91 L752.45 292.50 L755.43 294.07 L758.41 295.63 L761.38 297.18 L764.36 298.72 L767.34 300.25 L770.32 301.77 L773.30 303.28 L776.28 304.78 L779.26 306.27 L782.23 307.74 L785.21 309.21 L788.19 310.67 L791.17 312.12 L794.15 313.56 L797.13 314.99 L800.10 316.40 L803.08 317.81 L806.06 319.21 L809.04 320.60 L812.02 321.98 L815.00 323.35 L817.97 324.70 L820.95 326.05 L823.93 327.39 L826.91 328.72 L829.89 330.04 L832.87 331.34 L835.85 332.64 L838.82 333.93 L841.80 335.21 L844.78 336.48 L847.76 337.74 L850.74 338.99 L853.72 340.23 L856.69 341.45 L859.67 342.67 L862.65 343.88 L865.63 345.08 L868.61 346.28 L871.59 347.46 L874.56 348.63 L877.54 349.79 L880.52 350.94 L883.50 352.08" fill="none" stroke="#000" stroke-width="3.25" stroke-dasharray="18 6.43" stroke-dashoffset="12.90"/>
<path d="M469.50 116.54 L472.48 119.05 L475.46 121.54 L478.44 124.02 L481.41 126.48 L484.39 128.94 L487.37 131.38 L490.35 133.82 L493.33 136.24 L496.31 138.64 L499.28 141.04 L502.26 143.42 L505.24 145.79 L508.22 148.15 L511.20 150.50 L514.18 152.84 L517.15 155.16 L520.13 157.47 L523.11 159.77 L526.09 162.06 L529.07 164.33 L532.05 166.60 L535.03 168.85 L538.00 171.09 L540.98 173.32 L543.96 175.54 L546.94 177.74 L549.92 179.94 L552.90 182.12 L555.87 184.29 L558.85 186.45 L561.83 188.60 L564.81 190.73 L567.79 192.86 L570.77 194.97 L573.74 197.07 L576.72 199.16 L579.70 201.23 L582.68 203.30 L585.66 205.35 L588.64 207.40 L591.62 209.43 L594.59 211.45 L597.57 213.46 L600.55 215.45 L603.53 217.44 L606.51 219.41 L609.49 221.38 L612.46 223.33 L615.44 225.27 L618.42 227.20 L621.40 229.11 L624.38 231.02 L627.36 232.91 L630.33 234.80 L633.31 236.67 L636.29 238.53 L639.27 240.38 L642.25 242.22 L645.23 244.04 L648.21 245.86 L651.18 247.67 L654.16 249.46 L657.14 251.24 L660.12 253.01 L663.10 254.77 L666.08 256.52 L669.05 258.26 L672.03 259.99 L675.01 261.70 L677.99 263.41 L680.97 265.10 L683.95 266.79 L686.92 268.46 L689.90 270.12 L692.88 271.77 L695.86 273.41 L698.84 275.04 L701.82 276.66 L704.79 278.26 L707.77 279.86 L710.75 281.44 L713.73 283.02 L716.71 284.58 L719.69 286.14 L722.67 287.68 L725.64 289.21 L728.62 290.73 L731.60 292.24 L734.58 293.74 L737.56 295.23 L740.54 296.70 L743.51 298.17 L746.49 299.63 L749.47 301.07 L752.45 302.51 L755.43 303.93 L758.41 305.35 L761.38 306.75 L764.36 308.14 L767.34 309.53 L770.32 310.90 L773.30 312.26 L776.28 313.61 L779.26 314.95 L782.23 316.28 L785.21 317.60 L788.19 318.91 L791.17 320.21 L794.15 321.50 L797.13 322.78 L800.10 324.05 L803.08 325.30 L806.06 326.55 L809.04 327.79 L812.02 329.02 L815.00 330.23 L817.97 331.44 L820.95 332.64 L823.93 333.82 L826.91 335.00 L829.89 336.16 L832.87 337.32 L835.85 338.46 L838.82 339.60 L841.80 340.73 L844.78 341.84 L847.76 342.95 L850.74 344.04 L853.72 345.13 L856.69 346.20 L859.67 347.27 L862.65 348.32 L865.63 349.37 L868.61 350.40 L871.59 351.43 L874.56 352.44 L877.54 353.45 L880.52 354.44 L883.50 355.43" fill="none" stroke="#ff0000" stroke-width="3.25" stroke-dasharray="7.8 4.42" stroke-dashoffset="0.48"/>
<path d="M469.50 189.18 L472.48 191.52 L475.46 193.85 L478.44 196.16 L481.41 198.47 L484.39 200.76 L487.37 203.04 L490.35 205.31 L493.33 207.56 L496.31 209.81 L499.28 212.04 L502.26 214.26 L505.24 216.46 L508.22 218.66 L511.20 220.84 L514.18 223.01 L517.15 225.17 L520.13 227.31 L523.11 229.44 L526.09 231.56 L529.07 233.67 L532.05 235.77 L535.03 237.85 L538.00 239.92 L540.98 241.98 L543.96 244.03 L546.94 246.06 L549.92 248.08 L552.90 250.09 L555.87 252.09 L558.85 254.07 L561.83 256.05 L564.81 258.00 L567.79 259.95 L570.77 261.89 L573.74 263.81 L576.72 265.72 L579.70 267.62 L582.68 269.50 L585.66 271.37 L588.64 273.23 L591.62 275.08 L594.59 276.91 L597.57 278.74 L600.55 280.55 L603.53 282.34 L606.51 284.13 L609.49 285.90 L612.46 287.66 L615.44 289.41 L618.42 291.14 L621.40 292.86 L624.38 294.57 L627.36 296.27 L630.33 297.95 L633.31 299.62 L636.29 301.28 L639.27 302.93 L642.25 304.56 L645.23 306.18 L648.21 307.79 L651.18 309.38 L654.16 310.97 L657.14 312.54 L660.12 314.09 L663.10 315.64 L666.08 317.17 L669.05 318.69 L672.03 320.20 L675.01 321.69 L677.99 323.17 L680.97 324.64 L683.95 326.10 L686.92 327.54 L689.90 328.97 L692.88 330.39 L695.86 331.79 L698.84 333.18 L701.82 334.56 L704.79 335.93 L707.77 337.28 L710.75 338.62 L713.73 339.95 L716.71 341.26 L719.69 342.56 L722.67 343.85 L725.64 345.13 L728.62 346.39 L731.60 347.64 L734.58 348.88 L737.56 350.10 L740.54 351.32 L743.51 352.51 L746.49 353.70 L749.47 354.87 L752.45 356.03 L755.43 357.18 L758.41 358.31 L761.38 359.43 L764.36 360.54 L767.34 361.64 L770.32 362.72 L773.30 363.79 L776.28 364.84 L779.26 365.89 L782.23 366.92 L785.21 367.93 L788.19 368.94 L791.17 369.93 L794.15 370.91 L797.13 371.87 L800.10 372.82 L803.08 373.76 L806.06 374.69 L809.04 375.60 L812.02 376.50 L815.00 377.39 L817.97 378.26 L820.95 379.12 L823.93 379.97 L826.91 380.80 L829.89 381.62 L832.87 382.43 L835.85 383.22 L838.82 384.00 L841.80 384.77 L844.78 385.53 L847.76 386.27 L850.74 387.00 L853.72 387.71 L856.69 388.41 L859.67 389.10 L862.65 389.78 L865.63 390.44 L868.61 391.09 L871.59 391.72 L874.56 392.35 L877.54 392.95 L880.52 393.55 L883.50 394.13" fill="none" stroke="#006400" stroke-width="3.25" stroke-dasharray="14.5 9.95" stroke-dashoffset="12.78"/>
<path d="M469.50 232.29 L472.48 234.56 L475.46 236.82 L478.44 239.05 L481.41 241.28 L484.39 243.49 L487.37 245.68 L490.35 247.86 L493.33 250.03 L496.31 252.18 L499.28 254.31 L502.26 256.43 L505.24 258.54 L508.22 260.63 L511.20 262.71 L514.18 264.77 L517.15 266.82 L520.13 268.85 L523.11 270.87 L526.09 272.87 L529.07 274.86 L532.05 276.83 L535.03 278.79 L538.00 280.74 L540.98 282.67 L543.96 284.58 L546.94 286.48 L549.92 288.37 L552.90 290.24 L555.87 292.10 L558.85 293.95 L561.83 295.78 L564.81 297.59 L567.79 299.39 L570.77 301.18 L573.74 302.95 L576.72 304.71 L579.70 306.45 L582.68 308.18 L585.66 309.89 L588.64 311.60 L591.62 313.28 L594.59 314.95 L597.57 316.61 L600.55 318.26 L603.53 319.89 L606.51 321.50 L609.49 323.10 L612.46 324.69 L615.44 326.26 L618.42 327.82 L621.40 329.37 L624.38 330.90 L627.36 332.42 L630.33 333.92 L633.31 335.41 L636.29 336.89 L639.27 338.35 L642.25 339.80 L645.23 341.23 L648.21 342.65 L651.18 344.06 L654.16 345.45 L657.14 346.83 L660.12 348.19 L663.10 349.54 L666.08 350.88 L669.05 352.20 L672.03 353.51 L675.01 354.81 L677.99 356.09 L680.97 357.36 L683.95 358.61 L686.92 359.85 L689.90 361.08 L692.88 362.30 L695.86 363.50 L698.84 364.68 L701.82 365.86 L704.79 367.02 L707.77 368.16 L710.75 369.29 L713.73 370.41 L716.71 371.52 L719.69 372.61 L722.67 373.69 L725.64 374.76 L728.62 375.81 L731.60 376.85 L734.58 377.87 L737.56 378.89 L740.54 379.88 L743.51 380.87 L746.49 381.84 L749.47 382.80 L752.45 383.75 L755.43 384.68 L758.41 385.60 L761.38 386.50 L764.36 387.40 L767.34 388.28 L770.32 389.14 L773.30 390.00 L776.28 390.84 L779.26 391.66 L782.23 392.48 L785.21 393.28 L788.19 394.07 L791.17 394.84 L794.15 395.61 L797.13 396.35 L800.10 397.09 L803.08 397.81 L806.06 398.52 L809.04 399.22 L812.02 399.91 L815.00 400.58 L817.97 401.24 L820.95 401.88 L823.93 402.52 L826.91 403.14 L829.89 403.74 L832.87 404.34 L835.85 404.92 L838.82 405.49 L841.80 406.05 L844.78 406.59 L847.76 407.12 L850.74 407.64 L853.72 408.15 L856.69 408.64 L859.67 409.12 L862.65 409.59 L865.63 410.05 L868.61 410.49 L871.59 410.92 L874.56 411.34 L877.54 411.74 L880.52 412.14 L883.50 412.52" fill="none" stroke="#0000ff" stroke-width="3.25" stroke-dasharray="18.4 4.97 3.5 4.97" stroke-dashoffset="13.20"/>
<path d="M469.50 100.60 L472.48 103.23 L475.46 105.85 L478.44 108.46 L481.41 111.05 L484.39 113.63 L487.37 116.21 L490.35 118.77 L493.33 121.32 L496.31 123.85 L499.28 126.38 L502.26 128.89 L505.24 131.39 L508.22 133.88 L511.20 136.36 L514.18 138.83 L517.15 141.29 L520.13 143.73 L523.11 146.16 L526.09 148.59 L529.07 151.00 L532.05 153.39 L535.03 155.78 L538.00 158.16 L540.98 160.52 L543.96 162.87 L546.94 165.21 L549.92 167.54 L552.90 169.86 L555.87 172.16 L558.85 174.46 L561.83 176.74 L564.81 179.01 L567.79 181.27 L570.77 183.52 L573.74 185.75 L576.72 187.98 L579.70 190.19 L582.68 192.40 L585.66 194.59 L588.64 196.76 L591.62 198.93 L594.59 201.09 L597.57 203.23 L600.55 205.37 L603.53 207.49 L606.51 209.60 L609.49 211.70 L612.46 213.78 L615.44 215.86 L618.42 217.92 L621.40 219.97 L624.38 222.02 L627.36 224.05 L630.33 226.06 L633.31 228.07 L636.29 230.07 L639.27 232.05 L642.25 234.02 L645.23 235.98 L648.21 237.93 L651.18 239.87 L654.16 241.80 L657.14 243.71 L660.12 245.62 L663.10 247.51 L666.08 249.39 L669.05 251.26 L672.03 253.12 L675.01 254.96 L677.99 256.80 L680.97 258.62 L683.95 260.44 L686.92 262.24 L689.90 264.03 L692.88 265.80 L695.86 267.57 L698.84 269.33 L701.82 271.07 L704.79 272.80 L707.77 274.52 L710.75 276.23 L713.73 277.93 L716.71 279.62 L719.69 281.30 L722.67 282.96 L725.64 284.61 L728.62 286.26 L731.60 287.89 L734.58 289.50 L737.56 291.11 L740.54 292.71 L743.51 294.29 L746.49 295.87 L749.47 297.43 L752.45 298.98 L755.43 300.52 L758.41 302.05 L761.38 303.57 L764.36 305.07 L767.34 306.57 L770.32 308.05 L773.30 309.52 L776.28 310.98 L779.26 312.43 L782.23 313.87 L785.21 315.29 L788.19 316.71 L791.17 318.11 L794.15 319.51 L797.13 320.89 L800.10 322.26 L803.08 323.62 L806.06 324.96 L809.04 326.30 L812.02 327.62 L815.00 328.94 L817.97 330.24 L820.95 331.53 L823.93 332.81 L826.91 334.08 L829.89 335.34 L832.87 336.58 L835.85 337.82 L838.82 339.04 L841.80 340.25 L844.78 341.45 L847.76 342.64 L850.74 343.82 L853.72 344.99 L856.69 346.15 L859.67 347.29 L862.65 348.43 L865.63 349.55 L868.61 350.66 L871.59 351.76 L874.56 352.85 L877.54 353.93 L880.52 354.99 L883.50 356.05" fill="none" stroke="#000" stroke-width="1.0"/>
<path d="M469.50 128.82 L472.48 131.27 L475.46 133.70 L478.44 136.12 L481.41 138.53 L484.39 140.93 L487.37 143.32 L490.35 145.70 L493.33 148.06 L496.31 150.41 L499.28 152.75 L502.26 155.08 L505.24 157.40 L508.22 159.70 L511.20 162.00 L514.18 164.28 L517.15 166.55 L520.13 168.81 L523.11 171.06 L526.09 173.30 L529.07 175.52 L532.05 177.73 L535.03 179.94 L538.00 182.13 L540.98 184.30 L543.96 186.47 L546.94 188.63 L549.92 190.77 L552.90 192.91 L555.87 195.03 L558.85 197.14 L561.83 199.24 L564.81 201.32 L567.79 203.40 L570.77 205.46 L573.74 207.52 L576.72 209.56 L579.70 211.59 L582.68 213.61 L585.66 215.62 L588.64 217.61 L591.62 219.60 L594.59 221.57 L597.57 223.53 L600.55 225.49 L603.53 227.43 L606.51 229.35 L609.49 231.27 L612.46 233.18 L615.44 235.07 L618.42 236.96 L621.40 238.83 L624.38 240.69 L627.36 242.54 L630.33 244.38 L633.31 246.21 L636.29 248.02 L639.27 249.83 L642.25 251.62 L645.23 253.41 L648.21 255.18 L651.18 256.94 L654.16 258.69 L657.14 260.43 L660.12 262.15 L663.10 263.87 L666.08 265.57 L669.05 267.27 L672.03 268.95 L675.01 270.62 L677.99 272.28 L680.97 273.93 L683.95 275.57 L686.92 277.20 L689.90 278.82 L692.88 280.42 L695.86 282.02 L698.84 283.60 L701.82 285.17 L704.79 286.74 L707.77 288.29 L710.75 289.83 L713.73 291.36 L716.71 292.87 L719.69 294.38 L722.67 295.88 L725.64 297.36 L728.62 298.84 L731.60 300.30 L734.58 301.75 L737.56 303.19 L740.54 304.63 L743.51 306.05 L746.49 307.45 L749.47 308.85 L752.45 310.24 L755.43 311.62 L758.41 312.98 L761.38 314.34 L764.36 315.68 L767.34 317.02 L770.32 318.34 L773.30 319.65 L776.28 320.95 L779.26 322.24 L782.23 323.52 L785.21 324.79 L788.19 326.05 L791.17 327.30 L794.15 328.54 L797.13 329.76 L800.10 330.98 L803.08 332.18 L806.06 333.38 L809.04 334.56 L812.02 335.74 L815.00 336.90 L817.97 338.05 L820.95 339.19 L823.93 340.32 L826.91 341.44 L829.89 342.55 L832.87 343.65 L835.85 344.74 L838.82 345.82 L841.80 346.88 L844.78 347.94 L847.76 348.99 L850.74 350.02 L853.72 351.05 L856.69 352.06 L859.67 353.07 L862.65 354.06 L865.63 355.05 L868.61 356.02 L871.59 356.98 L874.56 357.93 L877.54 358.87 L880.52 359.81 L883.50 360.73" fill="none" stroke="#ff0000" stroke-width="1.0"/>
<path d="M469.50 197.95 L472.48 200.31 L475.46 202.65 L478.44 204.99 L481.41 207.30 L484.39 209.61 L487.37 211.90 L490.35 214.18 L493.33 216.44 L496.31 218.69 L499.28 220.93 L502.26 223.15 L505.24 225.36 L508.22 227.56 L511.20 229.74 L514.18 231.91 L517.15 234.06 L520.13 236.21 L523.11 238.33 L526.09 240.45 L529.07 242.55 L532.05 244.64 L535.03 246.71 L538.00 248.77 L540.98 250.82 L543.96 252.85 L546.94 254.87 L549.92 256.87 L552.90 258.86 L555.87 260.84 L558.85 262.81 L561.83 264.76 L564.81 266.70 L567.79 268.62 L570.77 270.53 L573.74 272.43 L576.72 274.31 L579.70 276.18 L582.68 278.04 L585.66 279.88 L588.64 281.71 L591.62 283.53 L594.59 285.33 L597.57 287.12 L600.55 288.90 L603.53 290.66 L606.51 292.41 L609.49 294.14 L612.46 295.86 L615.44 297.57 L618.42 299.27 L621.40 300.95 L624.38 302.62 L627.36 304.27 L630.33 305.91 L633.31 307.54 L636.29 309.15 L639.27 310.75 L642.25 312.34 L645.23 313.91 L648.21 315.47 L651.18 317.02 L654.16 318.55 L657.14 320.07 L660.12 321.58 L663.10 323.07 L666.08 324.55 L669.05 326.02 L672.03 327.47 L675.01 328.91 L677.99 330.33 L680.97 331.75 L683.95 333.15 L686.92 334.53 L689.90 335.90 L692.88 337.26 L695.86 338.61 L698.84 339.94 L701.82 341.26 L704.79 342.56 L707.77 343.86 L710.75 345.13 L713.73 346.40 L716.71 347.65 L719.69 348.89 L722.67 350.11 L725.64 351.33 L728.62 352.52 L731.60 353.71 L734.58 354.88 L737.56 356.04 L740.54 357.18 L743.51 358.32 L746.49 359.43 L749.47 360.54 L752.45 361.63 L755.43 362.71 L758.41 363.77 L761.38 364.83 L764.36 365.86 L767.34 366.89 L770.32 367.90 L773.30 368.90 L776.28 369.88 L779.26 370.86 L782.23 371.82 L785.21 372.76 L788.19 373.69 L791.17 374.61 L794.15 375.52 L797.13 376.41 L800.10 377.29 L803.08 378.15 L806.06 379.01 L809.04 379.85 L812.02 380.67 L815.00 381.48 L817.97 382.28 L820.95 383.07 L823.93 383.84 L826.91 384.60 L829.89 385.35 L832.87 386.08 L835.85 386.80 L838.82 387.51 L841.80 388.20 L844.78 388.88 L847.76 389.55 L850.74 390.21 L853.72 390.85 L856.69 391.47 L859.67 392.09 L862.65 392.69 L865.63 393.28 L868.61 393.85 L871.59 394.41 L874.56 394.96 L877.54 395.50 L880.52 396.02 L883.50 396.53" fill="none" stroke="#006400" stroke-width="1.0"/>
<path d="M469.50 238.89 L472.48 241.21 L475.46 243.51 L478.44 245.79 L481.41 248.06 L484.39 250.31 L487.37 252.54 L490.35 254.76 L493.33 256.96 L496.31 259.14 L499.28 261.31 L502.26 263.46 L505.24 265.59 L508.22 267.71 L511.20 269.81 L514.18 271.90 L517.15 273.96 L520.13 276.02 L523.11 278.05 L526.09 280.07 L529.07 282.07 L532.05 284.06 L535.03 286.03 L538.00 287.99 L540.98 289.92 L543.96 291.85 L546.94 293.75 L549.92 295.64 L552.90 297.51 L555.87 299.37 L558.85 301.21 L561.83 303.04 L564.81 304.85 L567.79 306.65 L570.77 308.42 L573.74 310.19 L576.72 311.93 L579.70 313.67 L582.68 315.38 L585.66 317.08 L588.64 318.77 L591.62 320.44 L594.59 322.09 L597.57 323.73 L600.55 325.35 L603.53 326.96 L606.51 328.55 L609.49 330.13 L612.46 331.69 L615.44 333.23 L618.42 334.76 L621.40 336.28 L624.38 337.78 L627.36 339.26 L630.33 340.73 L633.31 342.19 L636.29 343.63 L639.27 345.05 L642.25 346.46 L645.23 347.86 L648.21 349.24 L651.18 350.60 L654.16 351.95 L657.14 353.29 L660.12 354.61 L663.10 355.92 L666.08 357.21 L669.05 358.48 L672.03 359.74 L675.01 360.99 L677.99 362.22 L680.97 363.44 L683.95 364.65 L686.92 365.84 L689.90 367.01 L692.88 368.17 L695.86 369.32 L698.84 370.45 L701.82 371.56 L704.79 372.67 L707.77 373.76 L710.75 374.83 L713.73 375.89 L716.71 376.94 L719.69 377.97 L722.67 378.99 L725.64 379.99 L728.62 380.98 L731.60 381.96 L734.58 382.92 L737.56 383.87 L740.54 384.80 L743.51 385.72 L746.49 386.63 L749.47 387.52 L752.45 388.40 L755.43 389.26 L758.41 390.11 L761.38 390.95 L764.36 391.78 L767.34 392.59 L770.32 393.38 L773.30 394.17 L776.28 394.94 L779.26 395.69 L782.23 396.44 L785.21 397.17 L788.19 397.88 L791.17 398.59 L794.15 399.28 L797.13 399.95 L800.10 400.62 L803.08 401.27 L806.06 401.91 L809.04 402.53 L812.02 403.14 L815.00 403.74 L817.97 404.32 L820.95 404.90 L823.93 405.45 L826.91 406.00 L829.89 406.53 L832.87 407.05 L835.85 407.56 L838.82 408.06 L841.80 408.54 L844.78 409.01 L847.76 409.47 L850.74 409.91 L853.72 410.34 L856.69 410.76 L859.67 411.17 L862.65 411.56 L865.63 411.94 L868.61 412.31 L871.59 412.67 L874.56 413.01 L877.54 413.34 L880.52 413.66 L883.50 413.97" fill="none" stroke="#0000ff" stroke-width="1.0"/>
</g>
<line x1="240.2" y1="51.1" x2="289.0" y2="51.1" stroke="#000" stroke-width="1.6" stroke-dasharray="21.4 7.8"/>
<line x1="240.2" y1="76.9" x2="289.0" y2="76.9" stroke="#ff0000" stroke-width="1.6" stroke-dasharray="9.1 5.6"/>
<line x1="240.2" y1="102.7" x2="289.0" y2="102.7" stroke="#006400" stroke-width="1.6" stroke-dasharray="16.8 12.2"/>
<line x1="240.2" y1="128.7" x2="289.0" y2="128.7" stroke="#0000ff" stroke-width="1.6" stroke-dasharray="20.8 6.8 3.6 6.6"/>
<line x1="658.1" y1="51.1" x2="706.9" y2="51.1" stroke="#000" stroke-width="1.6" stroke-dasharray="21.4 7.8"/>
<line x1="658.1" y1="76.9" x2="706.9" y2="76.9" stroke="#ff0000" stroke-width="1.6" stroke-dasharray="9.1 5.6"/>
<line x1="658.1" y1="102.7" x2="706.9" y2="102.7" stroke="#006400" stroke-width="1.6" stroke-dasharray="16.8 12.2"/>
<line x1="658.1" y1="128.7" x2="706.9" y2="128.7" stroke="#0000ff" stroke-width="1.6" stroke-dasharray="20.8 6.8 3.6 6.6"/>
</g>
<g opacity="0.999">
<text x="33.2" y="31.799999999999976" font-size="20" text-anchor="start" >10<tspan font-size="14" dy="-7.1">3</tspan></text>
<text x="883.8" y="31.799999999999976" font-size="20" text-anchor="start" >10<tspan font-size="14" dy="-7.1">3</tspan></text>
<text x="33.2" y="167.79999999999998" font-size="20" text-anchor="start" >10<tspan font-size="14" dy="-7.1">2</tspan></text>
<text x="883.8" y="167.79999999999998" font-size="20" text-anchor="start" >10<tspan font-size="14" dy="-7.1">2</tspan></text>
<text x="33.2" y="303.79999999999995" font-size="20" text-anchor="start" >10<tspan font-size="14" dy="-7.1">1</tspan></text>
<text x="883.8" y="303.79999999999995" font-size="20" text-anchor="start" >10<tspan font-size="14" dy="-7.1">1</tspan></text>
<text x="51.6" y="439.59999999999997" font-size="20" text-anchor="start" >1</text>
<text x="883.6" y="439.59999999999997" font-size="20" text-anchor="start" >1</text>
<text x="82.30" y="452.5" font-size="20" text-anchor="middle" >180</text>
<text x="144.15" y="452.5" font-size="20" text-anchor="middle" >200</text>
<text x="206.00" y="452.5" font-size="20" text-anchor="middle" >220</text>
<text x="267.85" y="452.5" font-size="20" text-anchor="middle" >240</text>
<text x="329.70" y="452.5" font-size="20" text-anchor="middle" >260</text>
<text x="391.55" y="452.5" font-size="20" text-anchor="middle" >280</text>
<text x="453.40" y="452.5" font-size="20" text-anchor="middle" >300</text>
<text x="490.65" y="452.5" font-size="20" text-anchor="middle" >180</text>
<text x="552.44" y="452.5" font-size="20" text-anchor="middle" >200</text>
<text x="614.23" y="452.5" font-size="20" text-anchor="middle" >220</text>
<text x="676.03" y="452.5" font-size="20" text-anchor="middle" >240</text>
<text x="737.82" y="452.5" font-size="20" text-anchor="middle" >260</text>
<text x="799.61" y="452.5" font-size="20" text-anchor="middle" >280</text>
<text x="861.40" y="452.5" font-size="20" text-anchor="middle" >300</text>
<text font-size="20"><tspan x="224.40" y="477" font-style="italic">m</tspan><tspan x="240.60" y="480.3" font-style="italic" font-size="15">χ</tspan><tspan x="249.00" y="483.3" font-size="9">1</tspan><tspan x="260.70" y="477">(GeV)</tspan></text>
<text font-size="20"><tspan x="632.60" y="477" font-style="italic">m</tspan><tspan x="648.80" y="480.3" font-style="italic" font-size="15">χ</tspan><tspan x="657.20" y="483.3" font-size="9">1</tspan><tspan x="668.90" y="477">(GeV)</tspan></text>
<g transform="translate(23,271) rotate(-90)"><text font-size="19.3"><tspan x="0.1" y="0" font-style="italic">R</tspan><tspan x="12.0" y="0.6" font-size="21">(</tspan><tspan x="20.7" y="0" font-style="italic">g</tspan><tspan x="30.5" y="0" font-style="italic">g</tspan><tspan x="37.2" y="-0.7" font-size="21.8">→</tspan><tspan x="55.1" y="0" font-style="italic">h</tspan><tspan x="64.8" y="0" font-style="italic">h</tspan><tspan x="75.0" y="0.6" font-size="21">)</tspan></text></g>
<text transform="translate(349.30,55.15) scale(1.12,1)" font-size="16.3" stroke="#000" stroke-width="0.25">=</text>
<text transform="translate(401.65,55.15) scale(1.12,1)" font-size="16.3" stroke="#000" stroke-width="0.25">=</text>
<text transform="translate(412.05,55.15) scale(1.12,1)" font-size="16.3" stroke="#000" stroke-width="0.25">−</text>
<text font-size="16.3"><tspan x="332.50" y="53.3">λ</tspan><tspan x="340.40" y="55.4" font-style="italic" font-size="12">ω</tspan><tspan x="360.20" y="53.3" letter-spacing="-0.15">2.2,</tspan><tspan x="384.55" y="53.3">λ</tspan><tspan x="394.15" y="55.5" font-style="italic" font-size="12">χ</tspan><tspan x="422.55" y="53.3" letter-spacing="-0.15">3.5</tspan></text>
<text transform="translate(349.30,81.35) scale(1.12,1)" font-size="16.3" stroke="#000" stroke-width="0.25">=</text>
<text transform="translate(389.73,81.35) scale(1.12,1)" font-size="16.3" stroke="#000" stroke-width="0.25">=</text>
<text transform="translate(400.12,81.35) scale(1.12,1)" font-size="16.3" stroke="#000" stroke-width="0.25">−</text>
<text font-size="16.3"><tspan x="332.50" y="79.5">λ</tspan><tspan x="340.40" y="81.6" font-style="italic" font-size="12">ω</tspan><tspan x="360.20" y="79.5" letter-spacing="-0.15">2,</tspan><tspan x="372.62" y="79.5">λ</tspan><tspan x="382.23" y="81.7" font-style="italic" font-size="12">χ</tspan><tspan x="410.62" y="79.5" letter-spacing="-0.15">3</tspan></text>
<text transform="translate(349.30,107.65) scale(1.12,1)" font-size="16.3" stroke="#000" stroke-width="0.25">=</text>
<text transform="translate(401.65,107.65) scale(1.12,1)" font-size="16.3" stroke="#000" stroke-width="0.25">=</text>
<text transform="translate(412.05,107.65) scale(1.12,1)" font-size="16.3" stroke="#000" stroke-width="0.25">−</text>
<text font-size="16.3"><tspan x="332.50" y="105.8">λ</tspan><tspan x="340.40" y="107.89999999999999" font-style="italic" font-size="12">ω</tspan><tspan x="360.20" y="105.8" letter-spacing="-0.15">1.5,</tspan><tspan x="384.55" y="105.8">λ</tspan><tspan x="394.15" y="108.0" font-style="italic" font-size="12">χ</tspan><tspan x="422.55" y="105.8" letter-spacing="-0.15">3</tspan></text>
<text transform="translate(349.30,133.65) scale(1.12,1)" font-size="16.3" stroke="#000" stroke-width="0.25">=</text>
<text transform="translate(401.65,133.65) scale(1.12,1)" font-size="16.3" stroke="#000" stroke-width="0.25">=</text>
<text transform="translate(412.05,133.65) scale(1.12,1)" font-size="16.3" stroke="#000" stroke-width="0.25">−</text>
<text font-size="16.3"><tspan x="332.50" y="131.8">λ</tspan><tspan x="340.40" y="133.9" font-style="italic" font-size="12">ω</tspan><tspan x="360.20" y="131.8" letter-spacing="-0.15">1.5,</tspan><tspan x="384.55" y="131.8">λ</tspan><tspan x="394.15" y="134.0" font-style="italic" font-size="12">χ</tspan><tspan x="422.55" y="131.8" letter-spacing="-0.15">2</tspan></text>
<text transform="translate(354.70,159.75) scale(1.12,1)" font-size="16.3" stroke="#000" stroke-width="0.25">=</text>
<text font-size="16.3"><tspan x="332.20" y="157.9">Δ</tspan><tspan x="342.70" y="157.9" font-style="italic">m</tspan><tspan x="364.90" y="157.9">10 GeV</tspan></text>
<text transform="translate(760.90,55.15) scale(1.12,1)" font-size="16.3" stroke="#000" stroke-width="0.25">=</text>
<text transform="translate(801.33,55.15) scale(1.12,1)" font-size="16.3" stroke="#000" stroke-width="0.25">=</text>
<text transform="translate(811.73,55.15) scale(1.12,1)" font-size="16.3" stroke="#000" stroke-width="0.25">−</text>
<text font-size="16.3"><tspan x="744.10" y="53.3">λ</tspan><tspan x="752.00" y="55.4" font-style="italic" font-size="12">ω</tspan><tspan x="771.80" y="53.3" letter-spacing="-0.15">3,</tspan><tspan x="784.23" y="53.3">λ</tspan><tspan x="793.83" y="55.5" font-style="italic" font-size="12">χ</tspan><tspan x="822.23" y="53.3" letter-spacing="-0.15">3</tspan></text>
<text transform="translate(760.90,81.35) scale(1.12,1)" font-size="16.3" stroke="#000" stroke-width="0.25">=</text>
<text transform="translate(801.33,81.35) scale(1.12,1)" font-size="16.3" stroke="#000" stroke-width="0.25">=</text>
<text transform="translate(811.73,81.35) scale(1.12,1)" font-size="16.3" stroke="#000" stroke-width="0.25">−</text>
<text font-size="16.3"><tspan x="744.10" y="79.5">λ</tspan><tspan x="752.00" y="81.6" font-style="italic" font-size="12">ω</tspan><tspan x="771.80" y="79.5" letter-spacing="-0.15">2,</tspan><tspan x="784.23" y="79.5">λ</tspan><tspan x="793.83" y="81.7" font-style="italic" font-size="12">χ</tspan><tspan x="822.23" y="79.5" letter-spacing="-0.15">3</tspan></text>
<text transform="translate(760.90,107.65) scale(1.12,1)" font-size="16.3" stroke="#000" stroke-width="0.25">=</text>
<text transform="translate(801.33,107.65) scale(1.12,1)" font-size="16.3" stroke="#000" stroke-width="0.25">=</text>
<text transform="translate(811.73,107.65) scale(1.12,1)" font-size="16.3" stroke="#000" stroke-width="0.25">−</text>
<text font-size="16.3"><tspan x="744.10" y="105.8">λ</tspan><tspan x="752.00" y="107.89999999999999" font-style="italic" font-size="12">ω</tspan><tspan x="771.80" y="105.8" letter-spacing="-0.15">2,</tspan><tspan x="784.23" y="105.8">λ</tspan><tspan x="793.83" y="108.0" font-style="italic" font-size="12">χ</tspan><tspan x="822.23" y="105.8" letter-spacing="-0.15">2</tspan></text>
<text transform="translate(760.90,133.65) scale(1.12,1)" font-size="16.3" stroke="#000" stroke-width="0.25">=</text>
<text transform="translate(801.33,133.65) scale(1.12,1)" font-size="16.3" stroke="#000" stroke-width="0.25">=</text>
<text transform="translate(811.73,133.65) scale(1.12,1)" font-size="16.3" stroke="#000" stroke-width="0.25">−</text>
<text font-size="16.3"><tspan x="744.10" y="131.8">λ</tspan><tspan x="752.00" y="133.9" font-style="italic" font-size="12">ω</tspan><tspan x="771.80" y="131.8" letter-spacing="-0.15">2,</tspan><tspan x="784.23" y="131.8">λ</tspan><tspan x="793.83" y="134.0" font-style="italic" font-size="12">χ</tspan><tspan x="822.23" y="131.8" letter-spacing="-0.15">1.5</tspan></text>
<text transform="translate(766.30,159.75) scale(1.12,1)" font-size="16.3" stroke="#000" stroke-width="0.25">=</text>
<text font-size="16.3"><tspan x="743.80" y="157.9">Δ</tspan><tspan x="754.30" y="157.9" font-style="italic">m</tspan><tspan x="776.50" y="157.9">50 GeV</tspan></text>
</g>
</svg>
</body></html>
